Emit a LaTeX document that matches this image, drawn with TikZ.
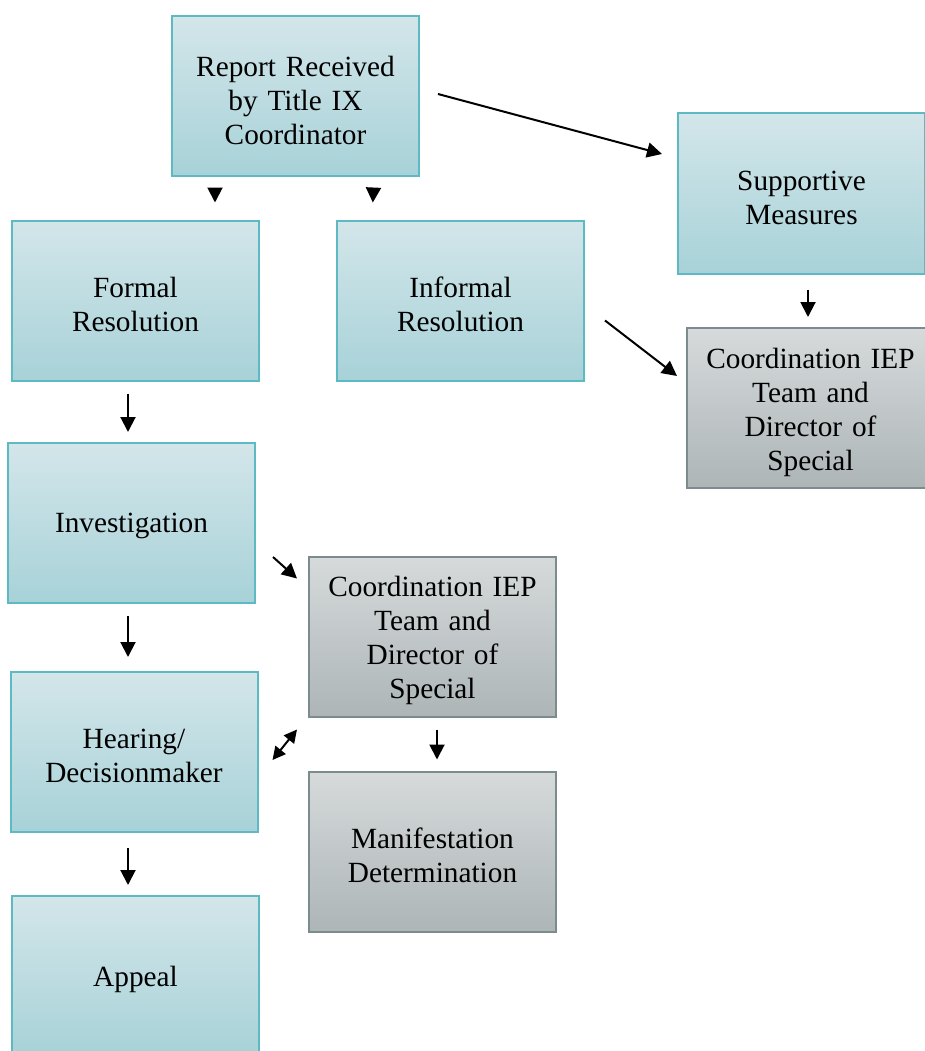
\documentclass[tikz,border=0pt]{standalone}
\usepackage{fontspec}
\setmainfont{Liberation Serif}
\usetikzlibrary{calc, arrows.meta}

\definecolor{tealtop}{HTML}{D3E6EA}
\definecolor{tealbot}{HTML}{A7D2D8}
\definecolor{tealline}{HTML}{5DB9C2}
\definecolor{graytop}{HTML}{D6DADB}
\definecolor{graybot}{HTML}{ADB5B7}
\definecolor{grayline}{HTML}{7C8C8E}

\tikzset{
  stagebox/.style={draw=tealline, line width=2pt, top color=tealtop, bottom color=tealbot,
    minimum width=247pt, minimum height=160pt, text width=240pt, align=center, inner sep=0pt,
    font=\fontsize{29.3}{34}\selectfont, execute at end node={\par\vspace*{-8pt}}},
  staffbox/.style={stagebox, draw=grayline, top color=graytop, bottom color=graybot},
  arr/.style={line width=2pt, -{Triangle[length=15pt,width=15pt]}},
  dblarr/.style={line width=2pt, {Triangle[length=13pt,width=13pt]}-{Triangle[length=13pt,width=13pt]}}
}

\begin{document}
\begin{tikzpicture}[x=1pt, y=-1pt]
  \useasboundingbox (0,0) rectangle (924,1051);

  \node[stagebox] (report) at (295.5,96) {Report Received\\by Title IX\\Coordinator};
  \node[stagebox] (formal) at (135.5,300.5) {Formal\\Resolution};
  \node[stagebox] (informal) at (460.5,300.5) {Informal\\Resolution};
  \node[stagebox] (support) at (801.5,193.5) {Supportive\\Measures};
  \node[staffbox] (iepA) at (810.5,408) {Coordination IEP\\Team and\\Director of\\Special};
  \node[stagebox] (invest) at (131.5,523) {Investigation};
  \node[staffbox] (iepB) at (432.5,636.5) {Coordination IEP\\Team and\\Director of\\Special};
  \node[stagebox] (hearing) at (134,752) {Hearing/\\Decisionmaker};
  \node[staffbox] (manif) at (432.5,851.5) {Manifestation\\Determination};
  \node[stagebox] (appeal) at (135.5,976) {Appeal};

  % arrows float between the boxes
  \draw[arr, shorten <=12pt, shorten >=17pt] ([xshift=44pt]report.south west) -- ([xshift=204pt]formal.north west);
  \draw[arr, shorten <=12pt, shorten >=17pt] ([xshift=-46pt]report.south east) -- ([xshift=36pt]informal.north west);
  \draw[arr] ([xshift=18pt,yshift=2pt]report.east) -- ([xshift=-15pt,yshift=39.5pt]support.west);
  \draw[arr] ([xshift=6.5pt,yshift=-15pt]support.south) -- ([xshift=-2.5pt,yshift=10pt]iepA.north);
  \draw[arr] ([xshift=20pt,yshift=-20pt]informal.east) -- ([xshift=-9pt,yshift=32pt]iepA.west);
  \draw[arr] ([xshift=-7.5pt,yshift=-12pt]formal.south) -- ([xshift=-3.5pt,yshift=10pt]invest.north);
  \draw[arr] ([xshift=17pt,yshift=-34pt]invest.east) -- ([xshift=-11pt,yshift=58pt]iepB.west);
  \draw[arr] ([xshift=-3.5pt,yshift=-12pt]invest.south) -- ([xshift=-6pt,yshift=14pt]hearing.north);
  \draw[dblarr] ([xshift=14pt,yshift=-8pt]hearing.east) -- ([xshift=-11pt,yshift=-12pt]iepB.south west);
  \draw[arr] ([xshift=4.5pt,yshift=-12pt]iepB.south) -- ([xshift=4.5pt,yshift=11pt]manif.north);
  \draw[arr] ([xshift=-6pt,yshift=-15pt]hearing.south) -- ([xshift=-7.5pt,yshift=10pt]appeal.north);
\end{tikzpicture}
\end{document}
